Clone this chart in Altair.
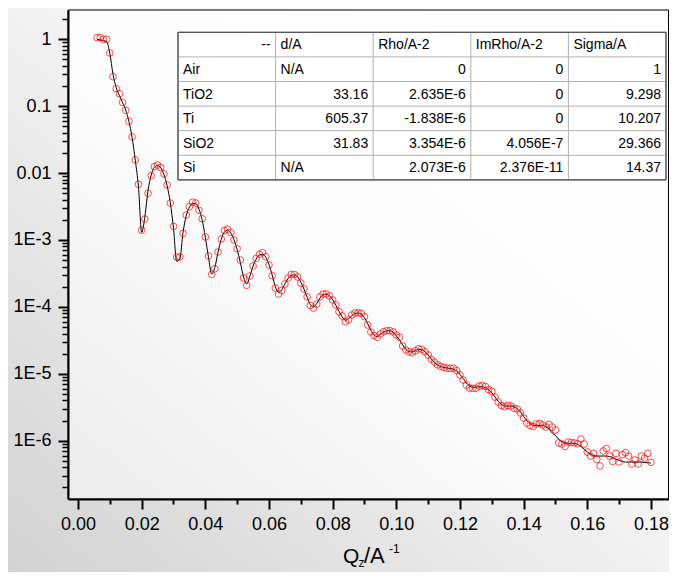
import altair as alt
import pandas as pd
import numpy as np

# ---------------- data ----------------
q = [0.006, 0.007, 0.008, 0.009, 0.010, 0.011, 0.012, 0.013, 0.014, 0.015,
     0.016, 0.017, 0.018, 0.019, 0.020, 0.021, 0.022, 0.023, 0.024, 0.025,
     0.026, 0.027, 0.028, 0.029, 0.030, 0.031, 0.032, 0.033, 0.034, 0.035,
     0.036, 0.037, 0.038, 0.039, 0.040, 0.041, 0.042, 0.043, 0.044, 0.045,
     0.046, 0.047, 0.048, 0.049, 0.050, 0.051, 0.052, 0.053, 0.054, 0.055,
     0.056, 0.057, 0.058, 0.059, 0.060, 0.061, 0.062, 0.063, 0.064, 0.065,
     0.066, 0.067, 0.068, 0.069, 0.070, 0.071, 0.072, 0.073, 0.074, 0.075,
     0.076, 0.077, 0.078, 0.079, 0.080, 0.081, 0.082, 0.083, 0.084, 0.085,
     0.086, 0.087, 0.088, 0.089, 0.090, 0.091, 0.092, 0.093, 0.094, 0.095,
     0.096, 0.097, 0.098, 0.099, 0.100, 0.101, 0.102, 0.103, 0.104, 0.105,
     0.106, 0.107, 0.108, 0.109, 0.110, 0.111, 0.112, 0.113, 0.114, 0.115,
     0.116, 0.117, 0.118, 0.119, 0.120, 0.121, 0.122, 0.123, 0.124, 0.125,
     0.126, 0.127, 0.128, 0.129, 0.130, 0.131, 0.132, 0.133, 0.134, 0.135,
     0.136, 0.137, 0.138, 0.139, 0.140, 0.141, 0.142, 0.143, 0.144, 0.145,
     0.146, 0.147, 0.148, 0.149, 0.150, 0.151, 0.152, 0.153, 0.154, 0.155,
     0.156, 0.157, 0.158, 0.159, 0.160, 0.161, 0.162, 0.163, 0.164, 0.165,
     0.166, 0.167, 0.168, 0.169, 0.170, 0.171, 0.172, 0.173, 0.174, 0.175,
     0.176, 0.177, 0.178, 0.179, 0.180]

refl = [1.06, 1.06, 1.00, 1.00, 0.624, 0.276, 0.183, 0.154, 0.114, 0.0869,
        0.0595, 0.0347, 0.0157, 0.00681, 0.00140, 0.00206, 0.00499, 0.00915, 0.0125, 0.0132,
        0.0121, 0.0097, 0.00664, 0.00357, 0.00160, 0.000557, 0.000557, 0.00126, 0.00236, 0.00315,
        0.00366, 0.00357, 0.00278, 0.00208, 0.00111, 0.000577, 0.000307, 0.000372, 0.000662, 0.001035,
        0.00138, 0.00145, 0.00130, 0.00100, 0.000741, 0.000502, 0.000270, 0.000210, 0.000290, 0.000409,
        0.000532, 0.000611, 0.000646, 0.000562, 0.000423, 0.000293, 0.000192, 0.000156, 0.000176, 0.000220,
        0.000270, 0.000305, 0.000305, 0.000280, 0.000228, 0.000185, 0.000141, 0.000105, 0.0000960, 0.000110,
        0.000141, 0.000156, 0.000156, 0.000146, 0.000127, 0.000107, 0.0000850, 0.0000731, 0.0000600, 0.0000640,
        0.0000757, 0.0000811, 0.0000815, 0.0000802, 0.0000714, 0.0000537, 0.0000422, 0.0000374, 0.0000352, 0.0000394,
        0.0000426, 0.0000441, 0.0000441, 0.0000422, 0.0000380, 0.0000352, 0.0000260, 0.0000227, 0.0000214, 0.0000207,
        0.0000221, 0.0000237, 0.0000232, 0.0000214, 0.0000191, 0.0000165, 0.0000150, 0.0000136, 0.0000129, 0.0000124,
        1.21e-5, 1.21e-5, 1.21e-5, 1.12e-5, 9.6e-6, 8.07e-6, 6.8e-6, 6.14e-6, 6.07e-6, 6.07e-6,
        6.57e-6, 6.68e-6, 6.46e-6, 5.82e-6, 5.43e-6, 4.5e-6, 3.79e-6, 3.36e-6, 3.22e-6, 3.36e-6,
        3.3e-6, 3.05e-6, 2.98e-6, 2.6e-6, 2.18e-6, 1.84e-6, 1.69e-6, 1.63e-6, 1.78e-6, 1.81e-6,
        1.72e-6, 1.6e-6, 1.75e-6, 1.6e-6, 1.45e-6, 9.25e-7, 8.93e-7, 8.19e-7, 9.57e-7, 9.4e-7,
        9.25e-7, 9.0e-7, 1.06e-6, 8.93e-7, 6.78e-7, 5.9e-7, 6.48e-7, 5.24e-7, 4.19e-7, 7.02e-7,
        7.64e-7, 5.9e-7, 4.89e-7, 6.48e-7, 4.81e-7, 6.22e-7, 6.62e-7, 5.9e-7, 4.49e-7, 5.15e-7,
        4.49e-7, 5.9e-7, 5.51e-7, 6.48e-7, 4.75e-7]

fit = [1.0, 0.98, 0.96, 0.92, 0.62, 0.30, 0.19, 0.145, 0.113, 0.087,
       0.059, 0.034, 0.0155, 0.0062, 0.0013, 0.0022, 0.0055, 0.0093, 0.0122, 0.0130,
       0.0120, 0.0095, 0.0065, 0.0036, 0.0015, 0.00048, 0.00052, 0.0013, 0.0023, 0.0031,
       0.0035, 0.0035, 0.0029, 0.0020, 0.0011, 0.00055, 0.00031, 0.00039, 0.00066, 0.00102,
       0.00132, 0.00140, 0.00128, 0.00101, 0.00072, 0.00046, 0.00028, 0.00022, 0.00029, 0.00041,
       0.00052, 0.00060, 0.00061, 0.00055, 0.00043, 0.00030, 0.00020, 0.000165, 0.000180, 0.000220,
       0.000265, 0.000295, 0.000300, 0.000280, 0.000235, 0.000185, 0.000140, 0.000108, 0.000100, 0.000112,
       0.000135, 0.000152, 0.000155, 0.000147, 0.000128, 0.000106, 0.000086, 0.000071, 0.000063, 0.000066,
       0.000074, 0.000080, 0.000081, 0.000078, 0.000069, 0.000056, 0.000045, 0.000038, 0.000036, 0.000039,
       0.000042, 0.000044, 0.000044, 0.000042, 0.000037, 0.000032, 0.000027, 0.0000232, 0.0000215, 0.0000212,
       0.0000222, 0.0000232, 0.0000230, 0.0000215, 0.0000192, 0.0000166, 0.0000148, 0.0000135, 0.0000128, 0.0000124,
       1.22e-5, 1.20e-5, 1.17e-5, 1.10e-5, 9.8e-6, 8.5e-6, 7.3e-6, 6.6e-6, 6.3e-6, 6.3e-6,
       6.4e-6, 6.4e-6, 6.2e-6, 5.8e-6, 5.2e-6, 4.5e-6, 3.9e-6, 3.5e-6, 3.3e-6, 3.3e-6,
       3.3e-6, 3.2e-6, 3.0e-6, 2.7e-6, 2.3e-6, 2.0e-6, 1.8e-6, 1.7e-6, 1.7e-6, 1.7e-6,
       1.7e-6, 1.6e-6, 1.5e-6, 1.3e-6, 1.2e-6, 1.05e-6, 9.7e-7, 9.3e-7, 9.2e-7, 9.2e-7,
       9.1e-7, 8.8e-7, 8.2e-7, 7.5e-7, 6.8e-7, 6.3e-7, 6.0e-7, 5.9e-7, 5.9e-7, 5.9e-7,
       5.9e-7, 5.8e-7, 5.6e-7, 5.3e-7, 5.1e-7, 4.9e-7, 4.8e-7, 4.8e-7, 4.8e-7, 4.8e-7,
       4.8e-7, 4.8e-7, 4.7e-7, 4.7e-7, 4.6e-7]

x_tick_labels = [0.00, 0.02, 0.04, 0.06, 0.08, 0.10, 0.12, 0.14, 0.16, 0.18]
x_minor_ticks = [0.01, 0.03, 0.05, 0.07, 0.09, 0.11, 0.13, 0.15, 0.17]
y_tick_labels = [1, 0.1, 0.01, 0.001, 0.0001, 0.00001, 0.000001]

table_headers = ["--", "d/A", "Rho/A-2", "ImRho/A-2", "Sigma/A"]
layer_names = ["Air", "TiO2", "Ti", "SiO2", "Si"]
thickness = ["N/A", "33.16", "605.37", "31.83", "N/A"]
rho = ["0", "2.635E-6", "-1.838E-6", "3.354E-6", "2.073E-6"]
imrho = ["0", "0", "0", "4.056E-7", "2.376E-11"]
sigma = ["1", "9.298", "10.207", "29.366", "14.37"]

# ---------------- layout ----------------
FONT = "Liberation Sans"
W, H = 601, 489
PAD = {"left": 60, "top": 2, "right": 0, "bottom": 73}
X_DOMAIN = [-0.00314, 0.18567]
Y_DOMAIN = [1.345e-7, 2.74]

y_minor_ticks = [m * 10.0 ** k for k in range(-7, 1) for m in range(2, 10)
                 if Y_DOMAIN[0] <= m * 10.0 ** k <= Y_DOMAIN[1]]

df = pd.DataFrame({"q": q, "R": refl, "fit": fit})

xscale = alt.Scale(domain=X_DOMAIN, nice=False, zero=False)
yscale = alt.Scale(type="log", domain=Y_DOMAIN, nice=False)

common_axis = dict(title=None, grid=False, zindex=1, tickColor="black",
                   domainColor="black", labelColor="black", labelFont=FONT)

x_major = alt.Axis(values=x_tick_labels, format=".2f", orient="bottom", tickSize=10,
                   tickWidth=2, domainWidth=2, labelFontSize=18, labelPadding=6,
                   labelFlush=False, labelOverlap=False, **common_axis)
x_minor = alt.Axis(values=x_minor_ticks, labels=False, domain=False, orient="bottom",
                   tickSize=5, tickWidth=2, **common_axis)
y_major = alt.Axis(values=y_tick_labels, orient="left", tickSize=10, tickWidth=2,
                   domainWidth=2, labelFontSize=18, labelPadding=7, labelOverlap=False,
                   labelFlush=False,
                   labelExpr="datum.value >= 0.01 ? toString(datum.value) : '1E' + round(log(datum.value)/LN10)",
                   **common_axis)
y_minor = alt.Axis(values=y_minor_ticks, labels=False, domain=False, orient="left",
                   tickSize=6, tickWidth=1.5, **common_axis)

one = pd.DataFrame({"k": [0]})

outer_bg = alt.Chart(one).mark_rect(
    fill=alt.LinearGradient(gradient="linear", x1=0, y1=1, x2=1, y2=0,
                            stops=[alt.GradientStop(offset=0, color="#d2d2d2"),
                                   alt.GradientStop(offset=0.55, color="#f4f4f4"),
                                   alt.GradientStop(offset=1, color="#ffffff")])
).encode(x=alt.value(-PAD["left"]), x2=alt.value(W + PAD["right"]),
         y=alt.value(-PAD["top"]), y2=alt.value(H + PAD["bottom"]))

plot_bg = alt.Chart(one).mark_rect(
    fill=alt.LinearGradient(gradient="linear", x1=0, y1=1, x2=1, y2=0,
                            stops=[alt.GradientStop(offset=0, color="#ececec"),
                                   alt.GradientStop(offset=0.45, color="#fcfcfc"),
                                   alt.GradientStop(offset=1, color="#ffffff")])
).encode(x=alt.value(0), x2=alt.value(W), y=alt.value(0), y2=alt.value(H))

frame = alt.Chart(one).mark_rect(fillOpacity=0, stroke="black", strokeWidth=1).encode(
    x=alt.value(0), x2=alt.value(W - 0.5), y=alt.value(0), y2=alt.value(H))

line = alt.Chart(df).mark_line(color="black", strokeWidth=1, interpolate="monotone").encode(
    x=alt.X("q:Q", scale=xscale, axis=x_minor),
    y=alt.Y("fit:Q", scale=yscale, axis=y_minor))

points = alt.Chart(df).mark_point(shape="circle", filled=False, color="#ff0000",
                                  size=45, strokeWidth=1).encode(
    x=alt.X("q:Q", scale=xscale, axis=x_major),
    y=alt.Y("R:Q", scale=yscale, axis=y_major))

# ---------------- inset table ----------------
TX, TY, CW, RH = 110, 22.3, 97.6, 24.6
NC, NR = 5, 6
cells = []
for ci, h in enumerate(table_headers):
    cells.append({"text": h, "row": 0, "col": ci, "align": "right" if ci == 0 else "left"})
columns = [layer_names, thickness, rho, imrho, sigma]
for ri in range(len(layer_names)):
    for ci, colvals in enumerate(columns):
        v = colvals[ri]
        al = "left" if (ci == 0 or v == "N/A") else "right"
        cells.append({"text": v, "row": ri + 1, "col": ci, "align": al})
cells_df = pd.DataFrame(cells)
cells_df["px"] = np.where(cells_df["align"] == "left",
                          TX + cells_df["col"] * CW + 5,
                          TX + (cells_df["col"] + 1) * CW - 5)
cells_df["py"] = TY + cells_df["row"] * RH + 17

segs = []
for r in range(1, NR):
    segs.append({"x": TX, "x2": TX + NC * CW, "y": TY + r * RH, "y2": TY + r * RH})
for c in range(1, NC):
    segs.append({"x": TX + c * CW, "x2": TX + c * CW, "y": TY, "y2": TY + NR * RH})
segs_df = pd.DataFrame(segs)

table_bg = alt.Chart(one).mark_rect(fill="white", stroke="#505050", strokeWidth=1).encode(
    x=alt.value(TX), x2=alt.value(TX + NC * CW), y=alt.value(TY), y2=alt.value(TY + NR * RH))

table_lines = alt.Chart(segs_df).mark_rule(color="#b0b0b0", strokeWidth=1).encode(
    x=alt.X("x:Q", scale=None, axis=None), x2="x2:Q",
    y=alt.Y("y:Q", scale=None, axis=None), y2="y2:Q")

table_border = alt.Chart(one).mark_rect(fillOpacity=0, stroke="#505050", strokeWidth=1).encode(
    x=alt.value(TX), x2=alt.value(TX + NC * CW), y=alt.value(TY), y2=alt.value(TY + NR * RH))

def cell_text(al):
    return alt.Chart(cells_df[cells_df["align"] == al]).mark_text(
        align=al, baseline="alphabetic", font=FONT, fontSize=14, color="black").encode(
        x=alt.X("px:Q", scale=None, axis=None),
        y=alt.Y("py:Q", scale=None, axis=None),
        text="text:N")

# ---------------- axis title Q_z/A^-1 ----------------
title_parts = pd.DataFrame({
    "t": ["Q", "z", "/A", "-1"],
    "px": [275, 290.5, 296, 321],
    "py": [553, 557, 553, 543],
    "fs": [21, 12, 22, 12],
})
x_title = alt.Chart(title_parts).mark_text(align="left", baseline="alphabetic", font=FONT,
                                           color="black").encode(
    x=alt.X("px:Q", scale=None, axis=None),
    y=alt.Y("py:Q", scale=None, axis=None),
    size=alt.Size("fs:Q", scale=None, legend=None),
    text="t:N")

chart = alt.layer(
    outer_bg, plot_bg, frame, line, points,
    table_bg, table_lines, table_border, cell_text("left"), cell_text("right"),
    x_title,
).resolve_axis(x="independent", y="independent").properties(
    width=W, height=H, padding=PAD,
    autosize=alt.AutoSizeParams(type="none"),
    background="white",
).configure_view(strokeWidth=0)

chart.save("out.html", embed_options={"renderer": "svg", "actions": False})
